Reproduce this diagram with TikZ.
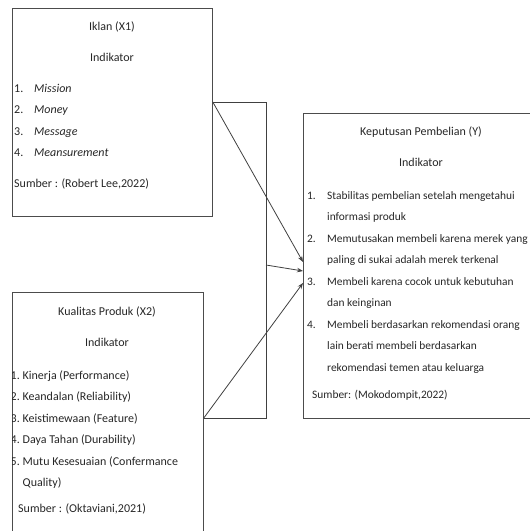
\documentclass[tikz,border=0pt]{standalone}
\usepackage{fontspec}
\setmainfont{Carlito}
\usepackage{array}
\usetikzlibrary{arrows.meta}

\begin{document}
\begin{tikzpicture}[x=1pt, y=-1pt,
    every node/.style={font=\fontsize{12}{21.5}\selectfont, text=black!85, inner sep=0pt},
    frame/.style={draw=black!70, line width=0.8pt, rectangle, anchor=north west},
    link/.style={draw=black!75, line width=0.8pt},
    arr/.style={link, -{Stealth[length=6pt, width=4.5pt]}}]
    \useasboundingbox (0,0) rectangle (530,531);
    \clip (0,0) rectangle (530,531);

    % Boxes
    \node[frame, minimum width=200pt, minimum height=208pt] (iklan) at (12,8) {};
    \node[frame, minimum width=191pt, minimum height=260pt] (kualitas) at (12,292) {};
    \node[frame, minimum width=236pt, minimum height=305pt] (keputusan) at (303,113) {};

    % Iklan (X1)
    \node (iklanTitle) at (112,27) {Iklan (X1)};
    \node (iklanInd) at (112,57) {Indikator};
    \node[anchor=base west] (iklanList) at (14,92) {%
        \begin{tabular}[t]{@{}p{20pt}@{}l@{}}
        1. & \textit{Mission}\\
        2. & \textit{Money}\\
        3. & \textit{Message}\\
        4. & \textit{Meansurement}\\[9pt]
        \multicolumn{2}{@{}l@{}}{Sumber : (Robert Lee,2022)}
        \end{tabular}};

    % Kualitas Produk (X2)
    \node (kualitasTitle) at (107,312) {Kualitas Produk (X2)};
    \node (kualitasInd) at (107,342) {Indikator};
    \begin{scope}
        \clip (kualitas.north west) rectangle (kualitas.south east);
        \node[anchor=base west] (kualitasList) at (10.5,379) {%
            \begin{tabular}[t]{@{}p{12pt}@{}l@{}}
            1. & Kinerja (Performance)\\
            2. & Keandalan (Reliability)\\
            3. & Keistimewaan (Feature)\\
            4. & Daya Tahan (Durability)\\
            5. & Mutu Kesesuaian (Confermance\\
               & Quality)\\[4pt]
            \multicolumn{2}{@{}l@{}}{\hspace{7.5pt}Sumber : (Oktaviani,2021)}
            \end{tabular}};
    \end{scope}

    % Keputusan Pembelian (Y)
    \node (keputusanTitle) at (421,132) {Keputusan Pembelian (Y)};
    \node (keputusanInd) at (421,162) {Indikator};
    \node[anchor=base west, font=\fontsize{11.4}{21.5}\selectfont] (keputusanList) at (307,199) {%
        \begin{tabular}[t]{@{}p{20pt}@{}l@{}}
        1. & Stabilitas pembelian setelah mengetahui\\
           & informasi produk\\
        2. & Memutusakan membeli karena merek yang\\
           & paling di sukai adalah merek terkenal\\
        3. & Membeli karena cocok untuk kebutuhan\\
           & dan keinginan\\
        4. & Membeli berdasarkan rekomendasi orang\\
           & lain berati membeli berdasarkan\\
           & rekomendasi temen atau keluarga\\[6pt]
        \multicolumn{2}{@{}l@{}}{\hspace{5pt}Sumber: (Mokodompit,2022)}
        \end{tabular}};

    % Joint bracket
    \coordinate (jointTL) at (iklan.east |- 0,102);
    \coordinate (jointTR) at (266,102);
    \coordinate (jointBR) at (266,418);
    \coordinate (jointBL) at (kualitas.east |- 0,418);
    \coordinate (jointMid) at (266,265);
    \draw[link] (jointTL) -- (jointTR) -- (jointBR) -- (jointBL);

    % Arrows
    \coordinate (inA) at (keputusan.west |- 0,262);
    \coordinate (inB) at (keputusan.west |- 0,271);
    \coordinate (inC) at (keputusan.west |- 0,283);
    \draw[arr] (jointTL) -- (inA);
    \draw[arr] (jointMid) -- (inB);
    \draw[arr] (jointBL) -- (inC);
\end{tikzpicture}
\end{document}
